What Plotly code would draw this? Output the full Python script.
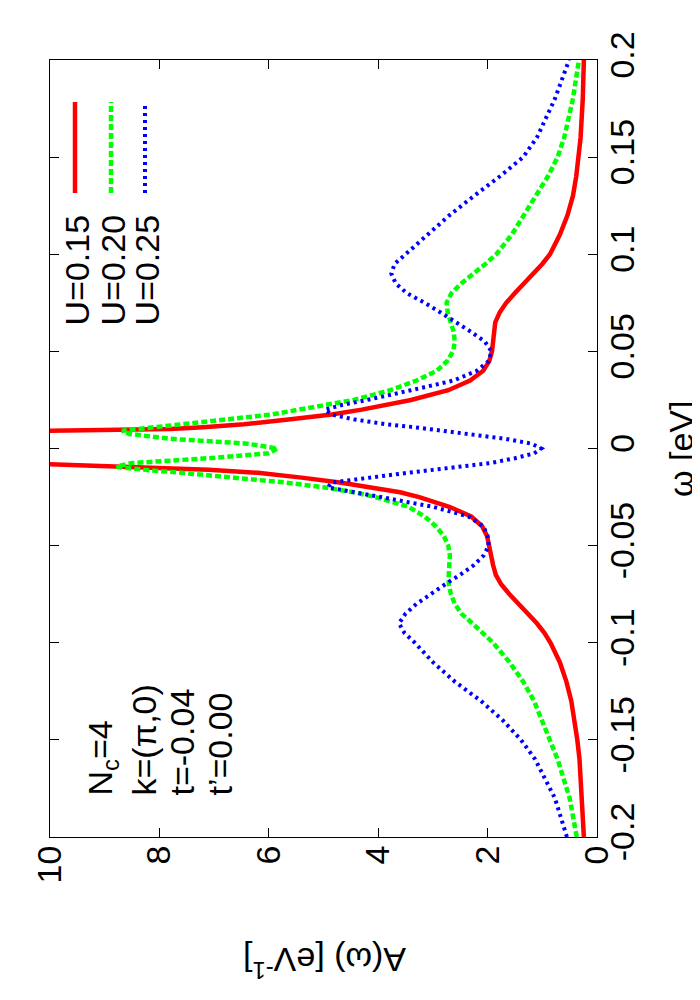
import plotly.graph_objects as go

# omega grid (eV)
omega = [-0.2, -0.18, -0.16, -0.15, -0.14, -0.13, -0.12, -0.11, -0.1, -0.095, -0.09, -0.085,
         -0.08, -0.075, -0.07, -0.065, -0.06, -0.055, -0.05, -0.045, -0.04, -0.035, -0.03,
         -0.025, -0.0225, -0.02, -0.0175, -0.015, -0.0125, -0.011, -0.01, -0.0095, -0.009,
         -0.0075, -0.005, -0.0025, 0.0,
         0.0025, 0.005, 0.0075, 0.009, 0.0095, 0.01, 0.011, 0.0125, 0.015, 0.0175, 0.02,
         0.0225, 0.025, 0.03, 0.035, 0.04, 0.045, 0.05, 0.055, 0.06, 0.065, 0.07, 0.075,
         0.08, 0.085, 0.09, 0.095, 0.1, 0.11, 0.12, 0.13, 0.14, 0.15, 0.16, 0.18, 0.2]

A_U015 = [0.24, 0.27, 0.32, 0.36, 0.41, 0.47, 0.56, 0.68, 0.85, 0.96, 1.10, 1.27,
          1.43, 1.60, 1.75, 1.85, 1.90, 1.93, 1.96, 2.01, 2.10, 2.30, 2.70,
          3.25, 3.60, 4.10, 4.70, 5.40, 6.20, 7.10, 8.30, 9.30, 10.6,
          14.0, 17.0, 18.0, 18.0,
          18.0, 17.0, 14.0, 9.6, 8.4, 7.8, 7.2, 6.45, 5.6, 4.85, 4.3,
          3.85, 3.4, 2.72, 2.32, 2.08, 1.97, 1.92, 1.90, 1.89, 1.86, 1.78, 1.66,
          1.50, 1.33, 1.15, 1.00, 0.86, 0.68, 0.54, 0.44, 0.38, 0.33, 0.30, 0.26, 0.24]

A_U020 = [0.37, 0.50, 0.72, 0.86, 1.00, 1.15, 1.35, 1.60, 1.90, 2.08, 2.28, 2.48,
          2.60, 2.67, 2.71, 2.71, 2.69, 2.69, 2.72, 2.80, 2.95, 3.15, 3.45,
          4.05, 4.45, 5.00, 5.70, 6.55, 7.60, 8.25, 8.70, 8.78, 8.75,
          8.50, 7.10, 6.00, 5.84,
          6.40, 7.80, 8.55, 8.68, 8.60, 8.40, 8.05, 7.50, 6.70, 5.95, 5.45,
          4.90, 4.45, 3.78, 3.30, 2.93, 2.74, 2.63, 2.60, 2.62, 2.68, 2.73, 2.75,
          2.66, 2.48, 2.25, 2.04, 1.84, 1.56, 1.34, 1.12, 0.90, 0.72, 0.60, 0.44, 0.33]

A_U025 = [0.55, 0.77, 1.13, 1.39, 1.72, 2.12, 2.60, 3.00, 3.33, 3.52, 3.62, 3.50,
          3.30, 3.05, 2.78, 2.50, 2.25, 2.07, 1.98, 2.00, 2.08, 2.35, 3.00,
          3.95, 4.45, 4.92, 4.85, 4.20, 3.45, 3.00, 2.70, 2.55, 2.40,
          1.95, 1.50, 1.15, 1.02,
          1.20, 1.68, 2.35, 2.75, 2.90, 3.05, 3.35, 3.85, 4.45, 4.85, 4.97,
          4.65, 4.20, 3.40, 2.62, 2.20, 1.98, 1.93, 2.05, 2.30, 2.57, 2.86, 3.15,
          3.48, 3.68, 3.76, 3.70, 3.50, 3.12, 2.70, 2.25, 1.78, 1.35, 1.10, 0.77, 0.51]

series_names = ["U=0.15", "U=0.20", "U=0.25"]
series_values = [A_U015, A_U020, A_U025]

A_ticks = [0, 2, 4, 6, 8, 10]
A_ticktext = ["0", "2", "4", "6", "8", "10"]
w_ticks = [-0.2, -0.15, -0.1, -0.05, 0, 0.05, 0.1, 0.15, 0.2]
w_ticktext = ["-0.2", "-0.15", "-0.1", "-0.05", "0", "0.05", "0.1", "0.15", "0.2"]

info_lines = ["N<sub>c</sub>=4", "k=(π,0)", "t=-0.04", "t’=0.00"]

colors = ["#ff0000", "#00ff00", "#0000ff"]
dashes = ["solid", "6px,3px", "3px,4px"]
widths = [4.5, 4.5, 4]

FONT = "Liberation Sans, Arial, sans-serif"
FS = 34

fig = go.Figure()
for name, vals, c, d, w in zip(series_names, series_values, colors, dashes, widths):
    fig.add_trace(go.Scatter(x=vals, y=omega, mode="lines", name=name,
                             line=dict(color=c, dash=d, width=w), showlegend=False))

# plot area pixel geometry
L, R, T, B = 42, 589, 52, 829
W, H = 700, 1000


def px(x):
    return (x - L) / (R - L)


def py(y):
    return (B - y) / (B - T)


shapes = []
annotations = []
leg_x = [67, 103, 137]
for i, (name, c, d, w) in enumerate(zip(series_names, colors, dashes, widths)):
    shapes.append(dict(type="line", xref="paper", yref="paper",
                       x0=px(leg_x[i]), x1=px(leg_x[i]), y0=py(185), y1=py(94),
                       line=dict(color=c, dash=d, width=w)))
    annotations.append(dict(text=name, xref="paper", yref="paper", x=px(leg_x[i] + 1),
                            y=py(320), xanchor="center", yanchor="bottom", textangle=-90,
                            showarrow=False, font=dict(family=FONT, size=FS, color="black")))

info_x = [94, 135, 173, 211]
for t, xx in zip(info_lines, info_x):
    annotations.append(dict(text=t, xref="paper", yref="paper", x=px(xx), y=py(790),
                            xanchor="center", yanchor="bottom", textangle=-90,
                            showarrow=False, font=dict(family=FONT, size=FS, color="black")))

annotations.append(dict(text="ω [eV]", xref="paper", yref="paper", x=px(673), y=py(441),
                        xanchor="center", yanchor="middle", textangle=-90, showarrow=False,
                        font=dict(family=FONT, size=FS, color="black")))
annotations.append(dict(text="A(ω) [eV<sup>-1</sup>]", xref="paper", yref="paper",
                        x=px(317), y=py(955), xanchor="center", yanchor="middle",
                        textangle=180, showarrow=False,
                        font=dict(family=FONT, size=FS, color="black")))

axis_common = dict(showline=True, linecolor="black", linewidth=1.2, mirror="ticks",
                   ticks="inside", ticklen=9, tickwidth=1.2, tickcolor="black",
                   showgrid=False, zeroline=False,
                   tickfont=dict(family=FONT, size=FS, color="black"))

fig.update_layout(
    width=W, height=H,
    margin=dict(l=L, r=W - R, t=T, b=H - B),
    paper_bgcolor="white", plot_bgcolor="white",
    xaxis=dict(range=[10, 0], tickvals=A_ticks, ticktext=A_ticktext, tickangle=-90,
               ticklabelstandoff=-6, **axis_common),
    yaxis=dict(range=[-0.2, 0.2], side="right", tickvals=w_ticks, ticktext=w_ticktext,
               tickangle=-90, ticklabelstandoff=-5, **axis_common),
    shapes=shapes, annotations=annotations,
)

fig.write_html("out.html")
